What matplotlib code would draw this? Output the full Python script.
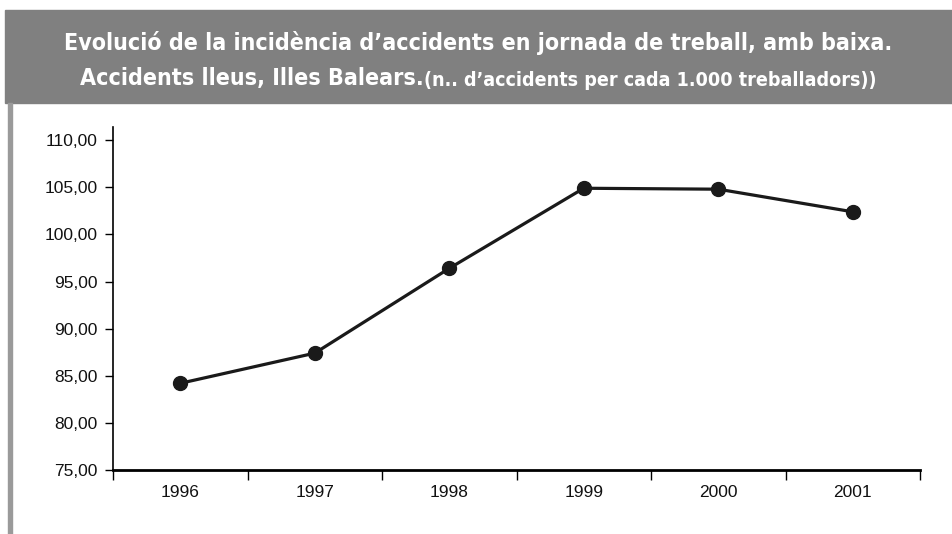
import matplotlib
matplotlib.use("Agg")
import matplotlib.pyplot as plt
import matplotlib.ticker as ticker
from matplotlib.patches import Rectangle

years = ['1996', '1997', '1998', '1999', '2000', '2001']
incidence = [84.2, 87.4, 96.4, 104.9, 104.8, 102.4]
y_ticks = [75, 80, 85, 90, 95, 100, 105, 110]

title_line1 = "Evolució de la incidència d\u2019accidents en jornada de treball, amb baixa."
title_line2a = "Accidents lleus, Illes Balears."
title_line2b = "(n.. d\u2019accidents per cada 1.000 treballadors))"


def comma_formatter(x, pos):
    return f'{x:.2f}'.replace('.', ',')


fig = plt.figure(figsize=(9.52, 5.34), dpi=100)
fig.patch.set_facecolor('white')

# grey header band and left border
fig.patches.append(Rectangle((5 / 952, 1 - 103 / 534), 1, 93 / 534,
                             transform=fig.transFigure, color='#808080', zorder=0))
fig.patches.append(Rectangle((8 / 952, 0), 4 / 952, 1 - 103 / 534,
                             transform=fig.transFigure, color='#9a9a9a', zorder=0))

title_kw = dict(color='white', fontweight='bold', family='DejaVu Sans', fontstretch='condensed')
t1 = fig.text(0.502, 1 - 43 / 534, title_line1, fontsize=20, ha='center', va='center', **title_kw)
t_a = fig.text(0, 1 - 78 / 534, title_line2a, fontsize=20, ha='left', va='center', **title_kw)
t_b = fig.text(0, 1 - 80 / 534, title_line2b, fontsize=17, ha='left', va='center', **title_kw)

# shrink the title to the width it has in the original
fig.canvas.draw()
r = fig.canvas.get_renderer()
k = 831 / t1.get_window_extent(r).width
for t in (t1, t_a, t_b):
    t.set_fontsize(t.get_fontsize() * k)
fig.canvas.draw()
wa = t_a.get_window_extent(r).width
wb = t_b.get_window_extent(r).width
W = fig.bbox.width
start = 0.502 * W - (wa + wb) / 2
t_a.set_x(start / W)
t_b.set_x((start + wa) / W)

ax = fig.add_axes([113 / 952, 1 - 470 / 534, (920 - 113) / 952, (470 - 127) / 534])
x = range(len(years))
ax.plot(x, incidence, color='#1a1a1a', linewidth=2.3, marker='o', markersize=10, zorder=3)

ax.set_xlim(-0.5, len(years) - 0.5)
ax.set_ylim(75, 111.4)
ax.set_yticks(y_ticks)
ax.yaxis.set_major_formatter(ticker.FuncFormatter(comma_formatter))
ax.set_xticks([i + 0.5 for i in range(-1, len(years))])
ax.set_xticklabels([])
ax.set_xticks(list(x), minor=True)
ax.set_xticklabels(years, minor=True)
ax.tick_params(axis='x', which='minor', length=0, pad=11)
ax.tick_params(axis='x', which='major', length=7, width=1, direction='out')
ax.tick_params(axis='y', length=6, width=1, direction='out', pad=5)

for lab in ax.get_xticklabels(minor=True) + ax.get_yticklabels():
    lab.set_family('Liberation Sans')
    lab.set_fontsize(12.5)
    lab.set_color('#111111')

ax.spines['top'].set_visible(False)
ax.spines['right'].set_visible(False)
ax.spines['left'].set_linewidth(1.2)
ax.spines['bottom'].set_linewidth(2)

fig.savefig('out.png', dpi=100)
